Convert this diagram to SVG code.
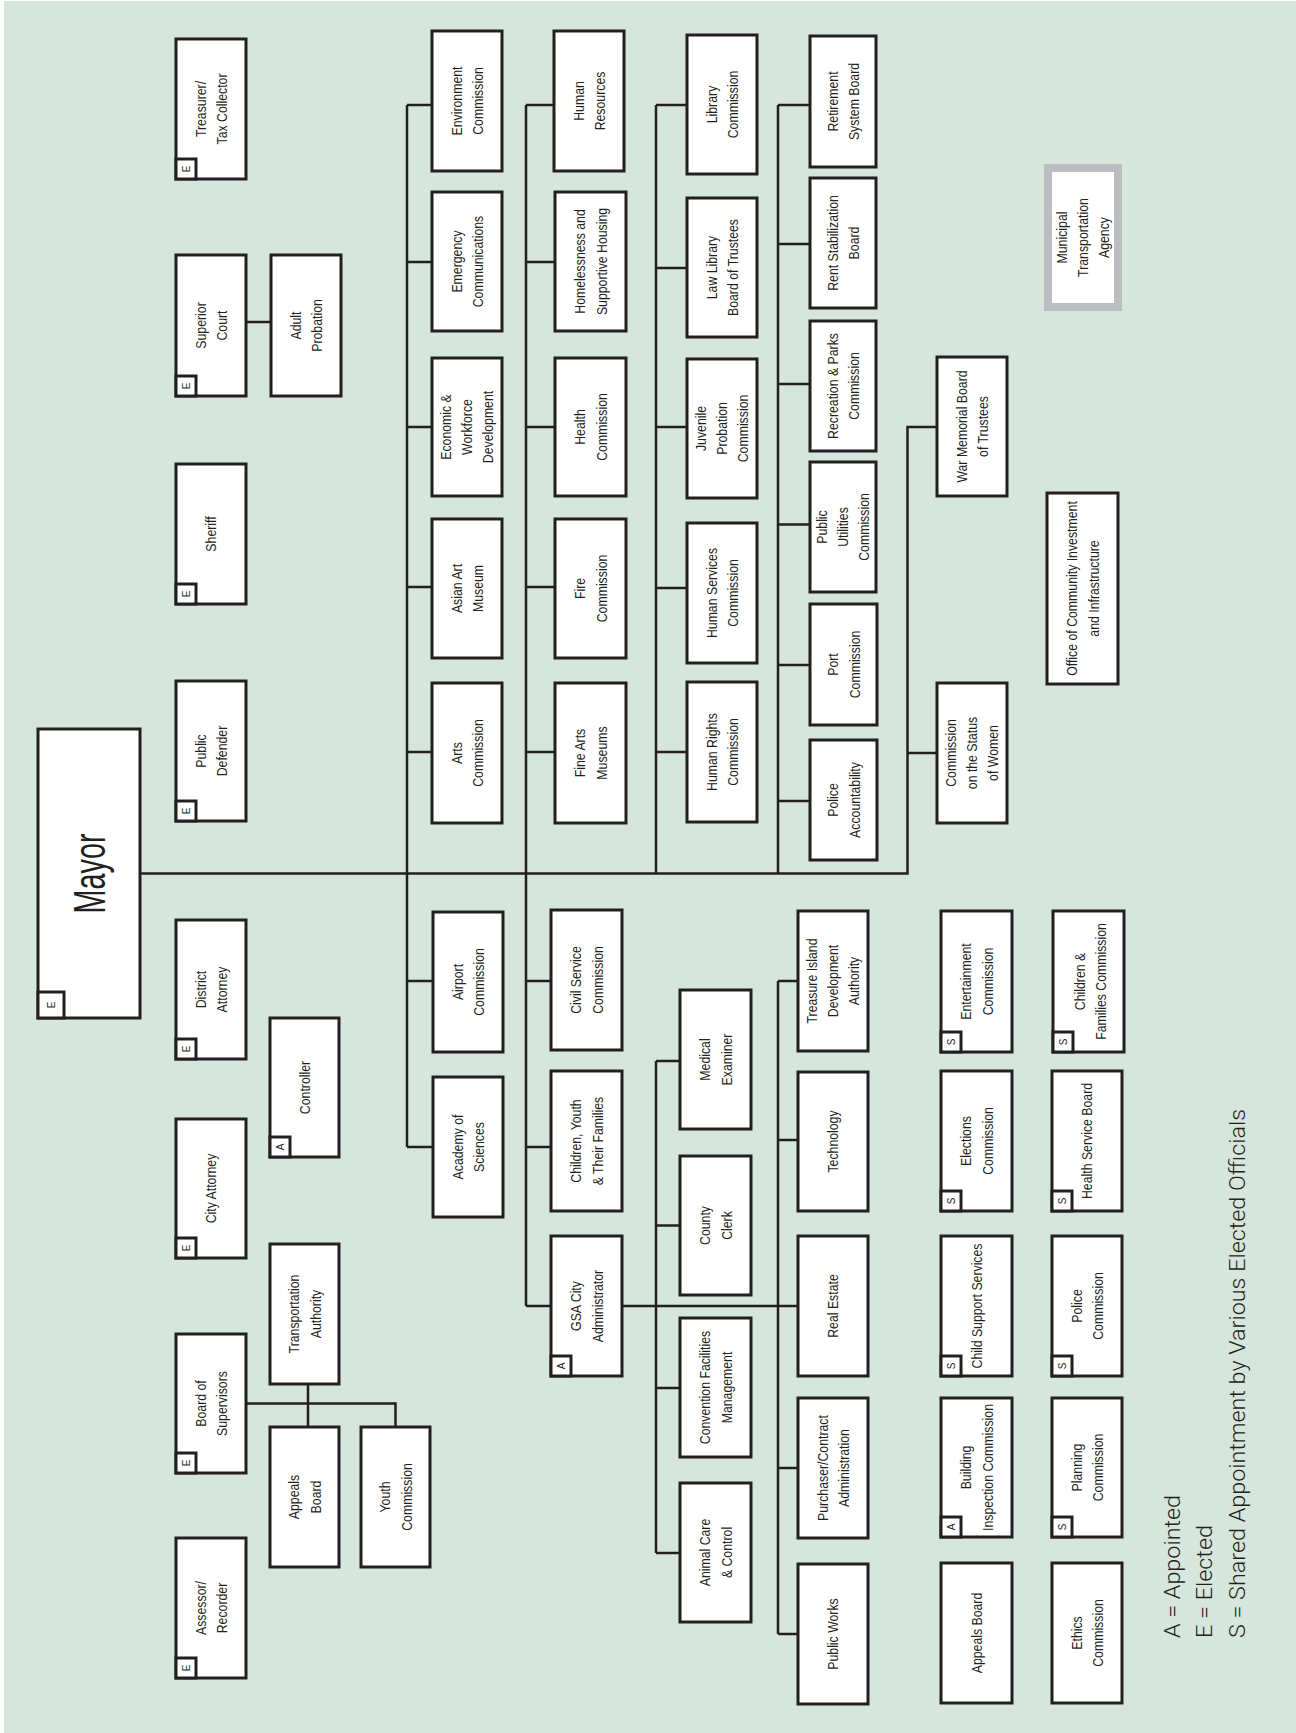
<svg xmlns="http://www.w3.org/2000/svg" width="1296" height="1733" viewBox="0 0 1296 1733">
<style>
.n rect{fill:#fff;stroke:#231f20;stroke-width:3}
.n text{font-family:"Liberation Sans",Arial,sans-serif;font-size:15px;fill:#231f20;text-anchor:middle}
.n .tag{stroke-width:3}
.n .tl{font-size:10px}
.c path{fill:none;stroke:#231f20;stroke-width:2.5}
.lg{font-family:Roboto,"Liberation Sans",sans-serif;font-weight:300;font-size:22px;fill:#231f20}
</style>
<rect x="0" y="0" width="1296" height="1733" fill="#ffffff"/>
<rect x="4" y="1" width="1292" height="1732" fill="#d6e6dc"/>

<g class="c" id="connectors">
<path d="M140,873.5 H907.5 V427 H937 M907.5,753 H937"/>
<path d="M407,105 V1147 M407,105 H432 M407,262 H432 M407,427 H432 M407,587 H432 M407,752 H432 M407,981 H433 M407,1147 H433"/>
<path d="M526,105 V1306 M526,105 H554 M526,262 H555 M526,427 H555 M526,587 H555 M526,752 H555 M526,981 H551 M526,1147 H551 M526,1306 H551"/>
<path d="M656,105 V873.5 M656,105 H687 M656,268 H687 M656,427 H687 M656,588 H687 M656,752 H687"/>
<path d="M778,105 V873.5 M778,105 H810 M778,244 H810 M778,384 H810 M778,524.5 H810 M778,665 H810 M778,801 H810"/>
<path d="M656,1061 V1553 M656,1061 H680 M656,1225.5 H680 M656,1388 H680 M656,1553 H680"/>
<path d="M778,981 V1634 M778,981 H798 M778,1140 H798 M778,1468 H798 M778,1634 H798"/>
<path d="M622,1306 H798"/>
<path d="M246,322 H271"/>
<path d="M246,1403.5 H395.5 V1427 M308,1384 V1427"/>
</g>

<g class="n" id="mayor"><rect x="38" y="729" width="102" height="289"/><text transform="translate(89,873.5) rotate(-90)" style="font-size:44px" textLength="80" lengthAdjust="spacingAndGlyphs" y="16">Mayor</text><rect class="tag" x="38" y="992" width="26" height="26"/><text class="tl" transform="translate(51,1005) rotate(-90)" y="3.5">E</text></g>

<g class="n" id="treasurer"><rect x="176" y="39" width="70" height="140"/><text transform="translate(211,109) rotate(-90) scale(.82,1)"><tspan x="0" y="-5.25">Treasurer/</tspan><tspan x="0" y="16.25">Tax Collector</tspan></text><rect class="tag" x="176" y="159" width="20" height="20"/><text class="tl" transform="translate(186,169) rotate(-90)" y="3.5">E</text></g>
<g class="n" id="superior-court"><rect x="176" y="255" width="70" height="141"/><text transform="translate(211,325.5) rotate(-90) scale(.82,1)"><tspan x="0" y="-5.25">Superior</tspan><tspan x="0" y="16.25">Court</tspan></text><rect class="tag" x="176" y="376" width="20" height="20"/><text class="tl" transform="translate(186,386) rotate(-90)" y="3.5">E</text></g>
<g class="n" id="sheriff"><rect x="176" y="464" width="70" height="140"/><text transform="translate(211,534) rotate(-90) scale(.82,1)" y="5">Sheriff</text><rect class="tag" x="176" y="584" width="20" height="20"/><text class="tl" transform="translate(186,594) rotate(-90)" y="3.5">E</text></g>
<g class="n" id="public-defender"><rect x="176" y="681" width="70" height="140"/><text transform="translate(211,751) rotate(-90) scale(.82,1)"><tspan x="0" y="-5.25">Public</tspan><tspan x="0" y="16.25">Defender</tspan></text><rect class="tag" x="176" y="801" width="20" height="20"/><text class="tl" transform="translate(186,811) rotate(-90)" y="3.5">E</text></g>
<g class="n" id="district-attorney"><rect x="176" y="920" width="70" height="139"/><text transform="translate(211,989.5) rotate(-90) scale(.82,1)"><tspan x="0" y="-5.25">District</tspan><tspan x="0" y="16.25">Attorney</tspan></text><rect class="tag" x="176" y="1039" width="20" height="20"/><text class="tl" transform="translate(186,1049) rotate(-90)" y="3.5">E</text></g>
<g class="n" id="city-attorney"><rect x="176" y="1119" width="70" height="139"/><text transform="translate(211,1188.5) rotate(-90) scale(.82,1)" y="5">City Attorney</text><rect class="tag" x="176" y="1238" width="20" height="20"/><text class="tl" transform="translate(186,1248) rotate(-90)" y="3.5">E</text></g>
<g class="n" id="board-of-supervisors"><rect x="176" y="1334" width="70" height="139"/><text transform="translate(211,1403.5) rotate(-90) scale(.82,1)"><tspan x="0" y="-5.25">Board of</tspan><tspan x="0" y="16.25">Supervisors</tspan></text><rect class="tag" x="176" y="1453" width="20" height="20"/><text class="tl" transform="translate(186,1463) rotate(-90)" y="3.5">E</text></g>
<g class="n" id="assessor"><rect x="176" y="1538" width="70" height="140"/><text transform="translate(211,1608) rotate(-90) scale(.82,1)"><tspan x="0" y="-5.25">Assessor/</tspan><tspan x="0" y="16.25">Recorder</tspan></text><rect class="tag" x="176" y="1658" width="20" height="20"/><text class="tl" transform="translate(186,1668) rotate(-90)" y="3.5">E</text></g>

<g class="n" id="adult-probation"><rect x="271" y="255" width="70" height="141"/><text transform="translate(306,325.5) rotate(-90) scale(.82,1)"><tspan x="0" y="-5.25">Adult</tspan><tspan x="0" y="16.25">Probation</tspan></text></g>
<g class="n" id="controller"><rect x="270" y="1018" width="69" height="139"/><text transform="translate(304.5,1087.5) rotate(-90) scale(.82,1)" y="5">Controller</text><rect class="tag" x="270" y="1137" width="20" height="20"/><text class="tl" transform="translate(280,1147) rotate(-90)" y="3.5">A</text></g>
<g class="n" id="transportation-authority"><rect x="270" y="1244" width="69" height="140"/><text transform="translate(304.5,1314) rotate(-90) scale(.82,1)"><tspan x="0" y="-5.25">Transportation</tspan><tspan x="0" y="16.25">Authority</tspan></text></g>
<g class="n" id="appeals-board-bos"><rect x="270" y="1427" width="69" height="140"/><text transform="translate(304.5,1497) rotate(-90) scale(.82,1)"><tspan x="0" y="-5.25">Appeals</tspan><tspan x="0" y="16.25">Board</tspan></text></g>
<g class="n" id="youth-commission"><rect x="361" y="1427" width="69" height="140"/><text transform="translate(395.5,1497) rotate(-90) scale(.82,1)"><tspan x="0" y="-5.25">Youth</tspan><tspan x="0" y="16.25">Commission</tspan></text></g>

<g class="n" id="environment"><rect x="432" y="31" width="70" height="140"/><text transform="translate(467,101) rotate(-90) scale(.82,1)"><tspan x="0" y="-5.25">Environment</tspan><tspan x="0" y="16.25">Commission</tspan></text></g>
<g class="n" id="emergency"><rect x="432" y="192" width="70" height="139"/><text transform="translate(467,261.5) rotate(-90) scale(.82,1)"><tspan x="0" y="-5.25">Emergency</tspan><tspan x="0" y="16.25">Communications</tspan></text></g>
<g class="n" id="economic"><rect x="432" y="358" width="70" height="138"/><text transform="translate(467,427) rotate(-90) scale(.82,1)"><tspan x="0" y="-16.5">Economic &amp;</tspan><tspan x="0" y="5">Workforce</tspan><tspan x="0" y="26.5">Development</tspan></text></g>
<g class="n" id="asian-art"><rect x="432" y="519" width="70" height="139"/><text transform="translate(467,588.5) rotate(-90) scale(.82,1)"><tspan x="0" y="-5.25">Asian Art</tspan><tspan x="0" y="16.25">Museum</tspan></text></g>
<g class="n" id="arts"><rect x="432" y="683" width="70" height="140"/><text transform="translate(467,753) rotate(-90) scale(.82,1)"><tspan x="0" y="-5.25">Arts</tspan><tspan x="0" y="16.25">Commission</tspan></text></g>
<g class="n" id="airport"><rect x="433" y="912" width="70" height="140"/><text transform="translate(468,982) rotate(-90) scale(.82,1)"><tspan x="0" y="-5.25">Airport</tspan><tspan x="0" y="16.25">Commission</tspan></text></g>
<g class="n" id="academy"><rect x="433" y="1077" width="70" height="140"/><text transform="translate(468,1147) rotate(-90) scale(.82,1)"><tspan x="0" y="-5.25">Academy of</tspan><tspan x="0" y="16.25">Sciences</tspan></text></g>

<g class="n" id="human-resources"><rect x="554" y="31" width="70" height="140"/><text transform="translate(589,101) rotate(-90) scale(.82,1)"><tspan x="0" y="-5.25">Human</tspan><tspan x="0" y="16.25">Resources</tspan></text></g>
<g class="n" id="homelessness"><rect x="555" y="192" width="71" height="139"/><text transform="translate(590.5,261.5) rotate(-90) scale(.82,1)"><tspan x="0" y="-5.25">Homelessness and</tspan><tspan x="0" y="16.25">Supportive Housing</tspan></text></g>
<g class="n" id="health"><rect x="555" y="358" width="71" height="138"/><text transform="translate(590.5,427) rotate(-90) scale(.82,1)"><tspan x="0" y="-5.25">Health</tspan><tspan x="0" y="16.25">Commission</tspan></text></g>
<g class="n" id="fire"><rect x="555" y="519" width="71" height="139"/><text transform="translate(590.5,588.5) rotate(-90) scale(.82,1)"><tspan x="0" y="-5.25">Fire</tspan><tspan x="0" y="16.25">Commission</tspan></text></g>
<g class="n" id="fine-arts"><rect x="555" y="683" width="71" height="140"/><text transform="translate(590.5,753) rotate(-90) scale(.82,1)"><tspan x="0" y="-5.25">Fine Arts</tspan><tspan x="0" y="16.25">Museums</tspan></text></g>
<g class="n" id="civil-service"><rect x="551" y="910" width="71" height="140"/><text transform="translate(586.5,980) rotate(-90) scale(.82,1)"><tspan x="0" y="-5.25">Civil Service</tspan><tspan x="0" y="16.25">Commission</tspan></text></g>
<g class="n" id="children-youth"><rect x="551" y="1071" width="71" height="140"/><text transform="translate(586.5,1141) rotate(-90) scale(.82,1)"><tspan x="0" y="-5.25">Children, Youth</tspan><tspan x="0" y="16.25">&amp; Their Families</tspan></text></g>
<g class="n" id="gsa"><rect x="551" y="1236" width="71" height="140"/><text transform="translate(586.5,1306) rotate(-90) scale(.82,1)"><tspan x="0" y="-5.25">GSA City</tspan><tspan x="0" y="16.25">Administrator</tspan></text><rect class="tag" x="551" y="1356" width="20" height="20"/><text class="tl" transform="translate(561,1366) rotate(-90)" y="3.5">A</text></g>

<g class="n" id="library"><rect x="687" y="35" width="70" height="139"/><text transform="translate(722,104.5) rotate(-90) scale(.82,1)"><tspan x="0" y="-5.25">Library</tspan><tspan x="0" y="16.25">Commission</tspan></text></g>
<g class="n" id="law-library"><rect x="687" y="198" width="70" height="139"/><text transform="translate(722,267.5) rotate(-90) scale(.82,1)"><tspan x="0" y="-5.25">Law Library</tspan><tspan x="0" y="16.25">Board of Trustees</tspan></text></g>
<g class="n" id="juvenile-probation"><rect x="687" y="359" width="70" height="139"/><text transform="translate(722,428.5) rotate(-90) scale(.82,1)"><tspan x="0" y="-16.5">Juvenile</tspan><tspan x="0" y="5">Probation</tspan><tspan x="0" y="26.5">Commission</tspan></text></g>
<g class="n" id="human-services"><rect x="687" y="523" width="70" height="140"/><text transform="translate(722,593) rotate(-90) scale(.82,1)"><tspan x="0" y="-5.25">Human Services</tspan><tspan x="0" y="16.25">Commission</tspan></text></g>
<g class="n" id="human-rights"><rect x="687" y="682" width="70" height="140"/><text transform="translate(722,752) rotate(-90) scale(.82,1)"><tspan x="0" y="-5.25">Human Rights</tspan><tspan x="0" y="16.25">Commission</tspan></text></g>

<g class="n" id="medical-examiner"><rect x="680" y="990" width="71" height="139"/><text transform="translate(715.5,1059.5) rotate(-90) scale(.82,1)"><tspan x="0" y="-5.25">Medical</tspan><tspan x="0" y="16.25">Examiner</tspan></text></g>
<g class="n" id="county-clerk"><rect x="680" y="1156" width="71" height="139"/><text transform="translate(715.5,1225.5) rotate(-90) scale(.82,1)"><tspan x="0" y="-5.25">County</tspan><tspan x="0" y="16.25">Clerk</tspan></text></g>
<g class="n" id="convention-facilities"><rect x="680" y="1318" width="71" height="139"/><text transform="translate(715.5,1387.5) rotate(-90) scale(.82,1)"><tspan x="0" y="-5.25">Convention Facilities</tspan><tspan x="0" y="16.25">Management</tspan></text></g>
<g class="n" id="animal-care"><rect x="680" y="1483" width="71" height="139"/><text transform="translate(715.5,1552.5) rotate(-90) scale(.82,1)"><tspan x="0" y="-5.25">Animal Care</tspan><tspan x="0" y="16.25">&amp; Control</tspan></text></g>

<g class="n" id="retirement"><rect x="810" y="36" width="66" height="131"/><text transform="translate(843,101.5) rotate(-90) scale(.82,1)"><tspan x="0" y="-5.25">Retirement</tspan><tspan x="0" y="16.25">System Board</tspan></text></g>
<g class="n" id="rent-stabilization"><rect x="810" y="178" width="66" height="130"/><text transform="translate(843,243) rotate(-90) scale(.82,1)"><tspan x="0" y="-5.25">Rent Stabilization</tspan><tspan x="0" y="16.25">Board</tspan></text></g>
<g class="n" id="recreation-parks"><rect x="810" y="321" width="66" height="130"/><text transform="translate(843,386) rotate(-90) scale(.82,1)"><tspan x="0" y="-5.25">Recreation &amp; Parks</tspan><tspan x="0" y="16.25">Commission</tspan></text></g>
<g class="n" id="public-utilities"><rect x="810" y="462" width="66" height="130"/><text transform="translate(843,527) rotate(-90) scale(.82,1)"><tspan x="0" y="-16.5">Public</tspan><tspan x="0" y="5">Utilities</tspan><tspan x="0" y="26.5">Commission</tspan></text></g>
<g class="n" id="port"><rect x="810" y="604" width="67" height="121"/><text transform="translate(843.5,664.5) rotate(-90) scale(.82,1)"><tspan x="0" y="-5.25">Port</tspan><tspan x="0" y="16.25">Commission</tspan></text></g>
<g class="n" id="police-accountability"><rect x="810" y="740" width="67" height="120"/><text transform="translate(843.5,800) rotate(-90) scale(.82,1)"><tspan x="0" y="-5.25">Police</tspan><tspan x="0" y="16.25">Accountability</tspan></text></g>

<g class="n" id="treasure-island"><rect x="798" y="911" width="70" height="140"/><text transform="translate(833,981) rotate(-90) scale(.82,1)"><tspan x="0" y="-16.5">Treasure Island</tspan><tspan x="0" y="5">Development</tspan><tspan x="0" y="26.5">Authority</tspan></text></g>
<g class="n" id="technology"><rect x="798" y="1072" width="70" height="139"/><text transform="translate(833,1141.5) rotate(-90) scale(.82,1)" y="5">Technology</text></g>
<g class="n" id="real-estate"><rect x="798" y="1236" width="70" height="140"/><text transform="translate(833,1306) rotate(-90) scale(.82,1)" y="5">Real Estate</text></g>
<g class="n" id="purchaser"><rect x="798" y="1398" width="70" height="140"/><text transform="translate(833,1468) rotate(-90) scale(.82,1)"><tspan x="0" y="-5.25">Purchaser/Contract</tspan><tspan x="0" y="16.25">Administration</tspan></text></g>
<g class="n" id="public-works"><rect x="798" y="1564" width="70" height="140"/><text transform="translate(833,1634) rotate(-90) scale(.82,1)" y="5">Public Works</text></g>

<g class="n" id="war-memorial"><rect x="937" y="357" width="70" height="139"/><text transform="translate(972,426.5) rotate(-90) scale(.82,1)"><tspan x="0" y="-5.25">War Memorial Board</tspan><tspan x="0" y="16.25">of Trustees</tspan></text></g>
<g class="n" id="status-of-women"><rect x="937" y="683" width="70" height="140"/><text transform="translate(972,753) rotate(-90) scale(.82,1)"><tspan x="0" y="-16.5">Commission</tspan><tspan x="0" y="5">on the Status</tspan><tspan x="0" y="26.5">of Women</tspan></text></g>

<g class="n" id="entertainment"><rect x="941" y="911" width="71" height="141"/><text transform="translate(976.5,981.5) rotate(-90) scale(.82,1)"><tspan x="0" y="-5.25">Entertainment</tspan><tspan x="0" y="16.25">Commission</tspan></text><rect class="tag" x="941" y="1032" width="20" height="20"/><text class="tl" transform="translate(951,1042) rotate(-90)" y="3.5">S</text></g>
<g class="n" id="elections"><rect x="941" y="1071" width="71" height="140"/><text transform="translate(976.5,1141) rotate(-90) scale(.82,1)"><tspan x="0" y="-5.25">Elections</tspan><tspan x="0" y="16.25">Commission</tspan></text><rect class="tag" x="941" y="1191" width="20" height="20"/><text class="tl" transform="translate(951,1201) rotate(-90)" y="3.5">S</text></g>
<g class="n" id="child-support"><rect x="941" y="1236" width="71" height="140"/><text transform="translate(976.5,1306) rotate(-90) scale(.82,1)" y="5">Child Support Services</text><rect class="tag" x="941" y="1356" width="20" height="20"/><text class="tl" transform="translate(951,1366) rotate(-90)" y="3.5">S</text></g>
<g class="n" id="building-inspection"><rect x="941" y="1398" width="71" height="139"/><text transform="translate(976.5,1467.5) rotate(-90) scale(.82,1)"><tspan x="0" y="-5.25">Building</tspan><tspan x="0" y="16.25">Inspection Commission</tspan></text><rect class="tag" x="941" y="1517" width="20" height="20"/><text class="tl" transform="translate(951,1527) rotate(-90)" y="3.5">A</text></g>
<g class="n" id="appeals-board"><rect x="941" y="1563" width="71" height="140"/><text transform="translate(976.5,1633) rotate(-90) scale(.82,1)" y="5">Appeals Board</text></g>

<g class="n" id="mta"><rect x="1048" y="168" width="70" height="139" style="stroke:#bcbdc0;stroke-width:8"/><text transform="translate(1083,237.5) rotate(-90) scale(.82,1)"><tspan x="0" y="-16.5">Municipal</tspan><tspan x="0" y="5">Transportation</tspan><tspan x="0" y="26.5">Agency</tspan></text></g>
<g class="n" id="ocii"><rect x="1047" y="493" width="71" height="191"/><text transform="translate(1082.5,588.5) rotate(-90) scale(.82,1)"><tspan x="0" y="-5.25">Office of Community Investment</tspan><tspan x="0" y="16.25">and Infrastructure</tspan></text></g>
<g class="n" id="children-families"><rect x="1053" y="911" width="71" height="141"/><text transform="translate(1090,981.5) rotate(-90) scale(.82,1)"><tspan x="0" y="-5.25">Children &amp;</tspan><tspan x="0" y="16.25">Families Commission</tspan></text><rect class="tag" x="1053" y="1032" width="20" height="20"/><text class="tl" transform="translate(1063,1042) rotate(-90)" y="3.5">S</text></g>
<g class="n" id="health-service-board"><rect x="1052" y="1071" width="70" height="140"/><text transform="translate(1087,1141) rotate(-90) scale(.82,1)" y="5">Health Service Board</text><rect class="tag" x="1052" y="1191" width="20" height="20"/><text class="tl" transform="translate(1062,1201) rotate(-90)" y="3.5">S</text></g>
<g class="n" id="police-commission"><rect x="1052" y="1236" width="70" height="140"/><text transform="translate(1087,1306) rotate(-90) scale(.82,1)"><tspan x="0" y="-5.25">Police</tspan><tspan x="0" y="16.25">Commission</tspan></text><rect class="tag" x="1052" y="1356" width="20" height="20"/><text class="tl" transform="translate(1062,1366) rotate(-90)" y="3.5">S</text></g>
<g class="n" id="planning"><rect x="1052" y="1398" width="70" height="139"/><text transform="translate(1087,1467.5) rotate(-90) scale(.82,1)"><tspan x="0" y="-5.25">Planning</tspan><tspan x="0" y="16.25">Commission</tspan></text><rect class="tag" x="1052" y="1517" width="20" height="20"/><text class="tl" transform="translate(1062,1527) rotate(-90)" y="3.5">S</text></g>
<g class="n" id="ethics"><rect x="1052" y="1563" width="70" height="140"/><text transform="translate(1087,1633) rotate(-90) scale(.82,1)"><tspan x="0" y="-5.25">Ethics</tspan><tspan x="0" y="16.25">Commission</tspan></text></g>

<g id="legend">
<text class="lg" transform="translate(1180,1638) rotate(-90)" textLength="143" lengthAdjust="spacingAndGlyphs">A = Appointed</text>
<text class="lg" transform="translate(1212,1638) rotate(-90)" textLength="113" lengthAdjust="spacingAndGlyphs">E = Elected</text>
<text class="lg" transform="translate(1245,1638) rotate(-90)" textLength="529" lengthAdjust="spacingAndGlyphs">S = Shared Appointment by Various Elected Officials</text>
</g>
</svg>
